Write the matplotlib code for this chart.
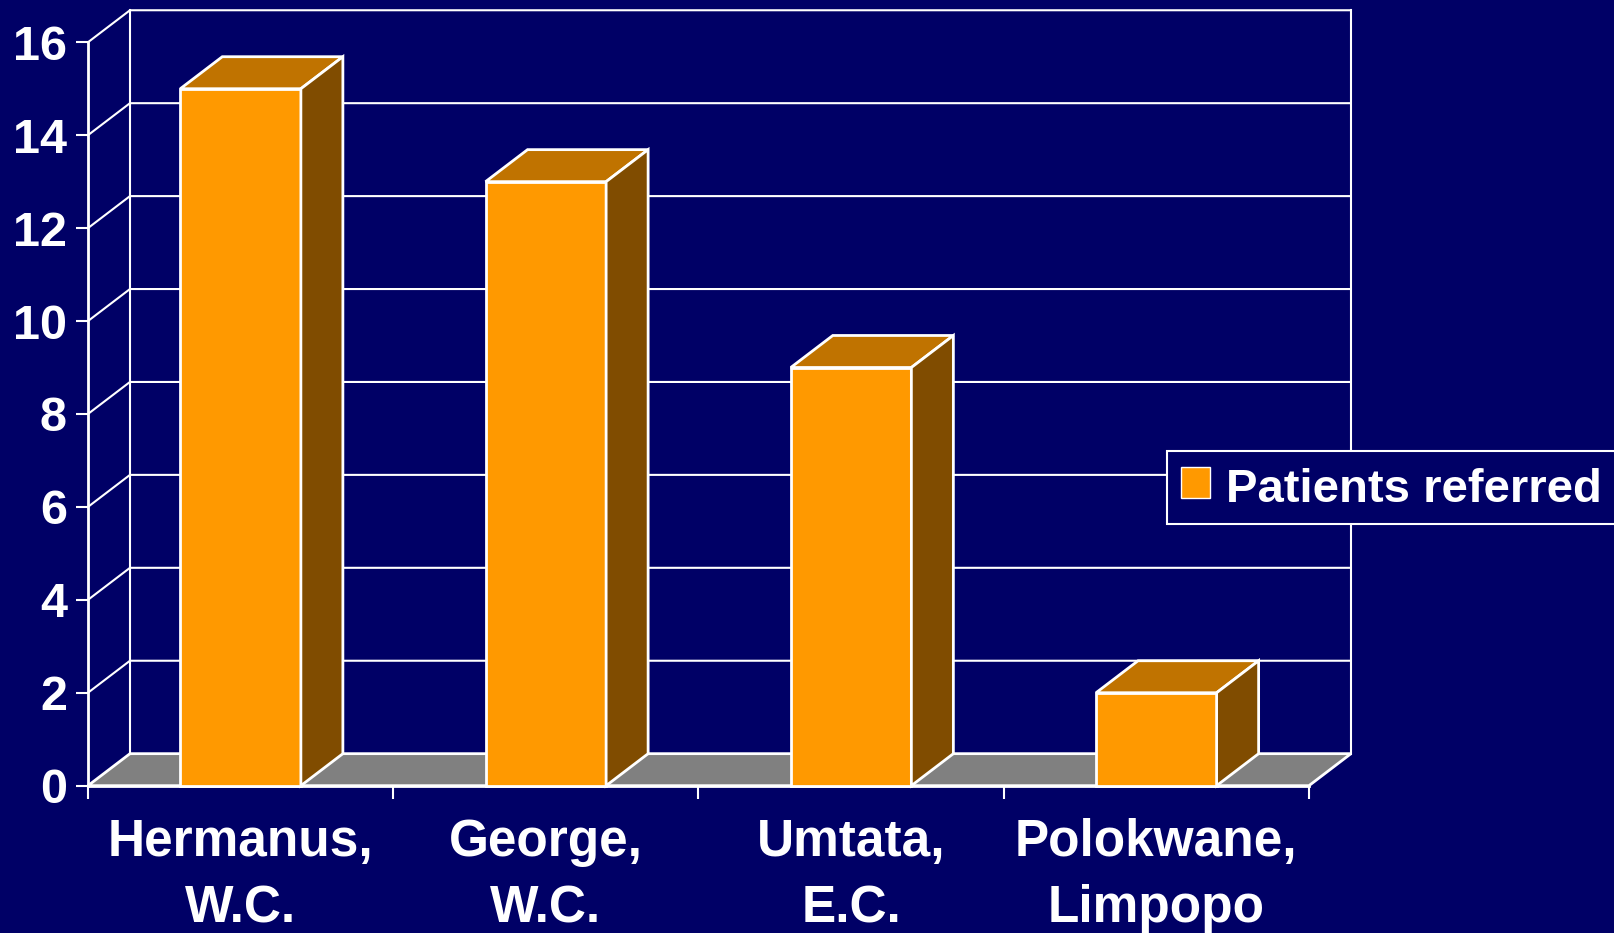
import matplotlib.pyplot as plt
from matplotlib.patches import Polygon, Rectangle, Patch

plt.rcParams['font.family'] = ['Liberation Sans', 'DejaVu Sans']
plt.rcParams['font.weight'] = 'bold'

# data
categories = ['Hermanus,\nW.C.', 'George,\nW.C.', 'Umtata,\nE.C.', 'Polokwane,\nLimpopo']
patients = [15, 13, 9, 2]
yticks = [0, 2, 4, 6, 8, 10, 12, 14, 16]
series_name = 'Patients referred'

# colours
navy = '#000066'
c_front = '#FF9900'
c_top = '#C07300'
c_side = '#804C00'
c_floor = '#808080'
c_line = 'white'

# fake 3d depth (data units) and bar width
dx, dy = 0.1376, 0.689
w = 0.395

fig = plt.figure(figsize=(16.14, 9.33), dpi=100, facecolor=navy)
ax = fig.add_axes([0.0545, 0.1579, 0.7565, 0.7968])
ax.set_facecolor('none')
x0, x1 = -0.5, len(categories) - 0.5
ymax = yticks[-1]
ax.set_xlim(x0, x1)
ax.set_ylim(0, ymax)
for s in ax.spines.values():
    s.set_visible(False)

# floor
ax.add_patch(Polygon([(x0, 0), (x1, 0), (x1 + dx, dy), (x0 + dx, dy)], closed=True,
                     fc=c_floor, ec=c_line, lw=2, clip_on=False, zorder=1))

# walls: gridlines on side + back wall
for v in yticks[1:]:
    ax.plot([x0, x0 + dx, x1 + dx], [v, v + dy, v + dy], color=c_line, lw=1.5,
            clip_on=False, zorder=1)
ax.plot([x0 + dx, x0 + dx], [dy, ymax + dy], color=c_line, lw=1.5, clip_on=False, zorder=1)
ax.plot([x1 + dx, x1 + dx], [dy, ymax + dy], color=c_line, lw=1.5, clip_on=False, zorder=1)
ax.plot([x0, x0], [0, ymax], color=c_line, lw=2, clip_on=False, zorder=2)
ax.plot([x0, x1], [0, 0], color=c_line, lw=2, clip_on=False, zorder=2)

# bars
for i, v in enumerate(patients):
    l, r = i - w / 2, i + w / 2
    ax.add_patch(Rectangle((l, 0), w, v, fc=c_front, ec=c_line, lw=2, zorder=3, clip_on=False))
    ax.add_patch(Polygon([(l, v), (r, v), (r + dx, v + dy), (l + dx, v + dy)], closed=True,
                         fc=c_top, ec=c_line, lw=2, zorder=3, clip_on=False))
    ax.add_patch(Polygon([(r, 0), (r + dx, dy), (r + dx, v + dy), (r, v)], closed=True,
                         fc=c_side, ec=c_line, lw=2, zorder=3, clip_on=False))

# ticks
ax.set_yticks(yticks)
ax.tick_params(axis='y', colors='white', length=8.6, width=1.5, pad=6.5, labelsize=35)
ax.set_xticks(range(len(categories)), categories)
for t in ax.get_xticklabels():
    t.set_linespacing(1.45)
ax.set_xticks([x0 + k for k in range(len(categories) + 1)], minor=True)
ax.tick_params(axis='x', which='major', length=0, pad=23.5, labelsize=37, labelcolor='white')
ax.tick_params(axis='x', which='minor', length=9, width=1.5, color='white')

# legend
leg = ax.legend([Patch(fc=c_front, ec='white', lw=1)], [series_name], loc='upper left',
                bbox_to_anchor=(0.7229, 0.5163), bbox_transform=fig.transFigure,
                borderaxespad=0, fancybox=False, framealpha=1, facecolor=navy,
                edgecolor='white', fontsize=34, labelcolor='white', handlelength=0.62,
                handleheight=0.63, handletextpad=0.34, borderpad=0.3)
leg.get_frame().set_linewidth(1.5)
leg.get_texts()[0].set_y(-3)

fig.savefig('out.png', dpi=100, facecolor=navy)
